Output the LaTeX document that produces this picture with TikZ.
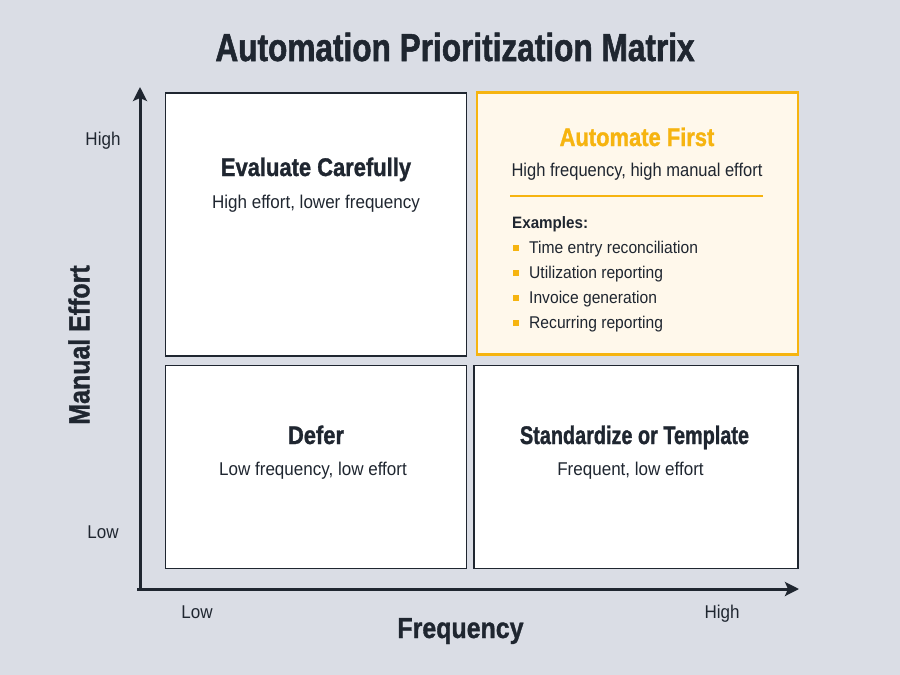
\documentclass[tikz,border=0pt]{standalone}
\usepackage{fontspec}
\usepackage{graphicx}
\setmainfont{Liberation Sans}[FakeStretch=0.92]
\newfontfamily\condb{Liberation Sans}[FakeStretch=0.86,FakeBold=1.2]
\newfontfamily\titlef{Liberation Sans}[FakeStretch=0.81,FakeBold=1.4]
\usetikzlibrary{arrows.meta}
\definecolor{bgc}{HTML}{DADDE5}
\definecolor{ink}{HTML}{1F2630}
\definecolor{amber}{HTML}{F6B410}
\definecolor{cream}{HTML}{FFF8EB}
\tikzset{
  quad/.style={draw=ink, line width=1.8pt, fill=white, inner sep=0pt},
  hot/.style={draw=amber, line width=2.4pt, fill=cream, inner sep=0pt},
  head/.style={font=\condb\bfseries\fontsize{25.5}{30}\selectfont, text=ink, anchor=base, inner sep=0pt},
  sub/.style={font=\fontsize{18.5}{22}\selectfont, text=ink, anchor=base, inner sep=0pt},
  item/.style={font=\fontsize{17}{20}\selectfont, text=ink, anchor=base west, inner sep=0pt},
  axlab/.style={font=\condb\bfseries\fontsize{29}{34}\selectfont, text=ink, inner sep=0pt},
  axis/.style={draw=ink, line width=3pt, -{Stealth[length=14pt,width=14pt,inset=3pt]}},
  bul/.style={fill=amber, minimum size=6pt, inner sep=0pt}
}
\begin{document}
\begin{tikzpicture}[x=1pt,y=-1pt]
\useasboundingbox[fill=bgc] (0,0) rectangle (900,675);
% title
\node[font=\titlef\bfseries\fontsize{39}{44}\selectfont, text=ink, anchor=base, inner sep=0pt] (title) at (455,61) {Automation Prioritization Matrix};
% quadrants
\node[quad, minimum width=301pt, minimum height=263pt] (tl) at (316,224.5) {};
\node[hot, minimum width=321pt, minimum height=262pt] (tr) at (637.5,223.5) {};
\node[quad, minimum width=301pt, minimum height=203pt] (bl) at (316,467) {};
\node[quad, minimum width=324pt, minimum height=203pt] (br) at (636,467) {};
% axes
\coordinate (origin) at (137,589);
\coordinate (ytip) at (140,87);
\coordinate (xtip) at (799,589);
\draw[axis] (140,590.5) -- (ytip);
\draw[axis] (origin) -- (xtip);
% axis labels
\node[sub, anchor=base] (yhigh) at (103,145) {High};
\node[sub, anchor=base] (ylow) at (103,538) {Low};
\node[sub, anchor=base] (xlow) at (197,618) {Low};
\node[sub, anchor=base] (xhigh) at (722,618) {High};
\node[axlab, anchor=base] (xlab) at (460.5,638) {Frequency};
\node[axlab, rotate=90] (ylab) at (79,345) {Manual Effort};
% top left
\node[head] (tlh) at (316,176) {Evaluate Carefully};
\node[sub] (tls) at (316,208) {High effort, lower frequency};
% top right
\node[head, text=amber] (trh) at (637,146) {Automate First};
\node[sub] (trs) at (637,176) {\scalebox{0.97}[1]{High frequency, high manual effort}};
\coordinate (ruleL) at (510,196);
\coordinate (ruleR) at (763,196);
\draw[amber, line width=1.2pt] (ruleL) -- (ruleR);
\node[item, font=\bfseries\fontsize{16.5}{20}\selectfont] (ex) at (512,228) {Examples:};
\node[bul] (b1) at (515.5,248) {};
\node[bul] (b2) at (515.5,273) {};
\node[bul] (b3) at (515.5,298) {};
\node[bul] (b4) at (515.5,323) {};
\node[item] (i1) at (529,253) {Time entry reconciliation};
\node[item] (i2) at (529,278) {Utilization reporting};
\node[item] (i3) at (529,303) {Invoice generation};
\node[item] (i4) at (529,328) {Recurring reporting};
% bottom left
\node[head] (blh) at (316,444) {Defer};
\node[sub] (bls) at (313,475) {Low frequency, low effort};
% bottom right
\node[head] (brh) at (634.5,444) {\scalebox{0.905}[1]{Standardize or Template}};
\node[sub] (brs) at (630.5,475) {Frequent, low effort};
\end{tikzpicture}
\end{document}
